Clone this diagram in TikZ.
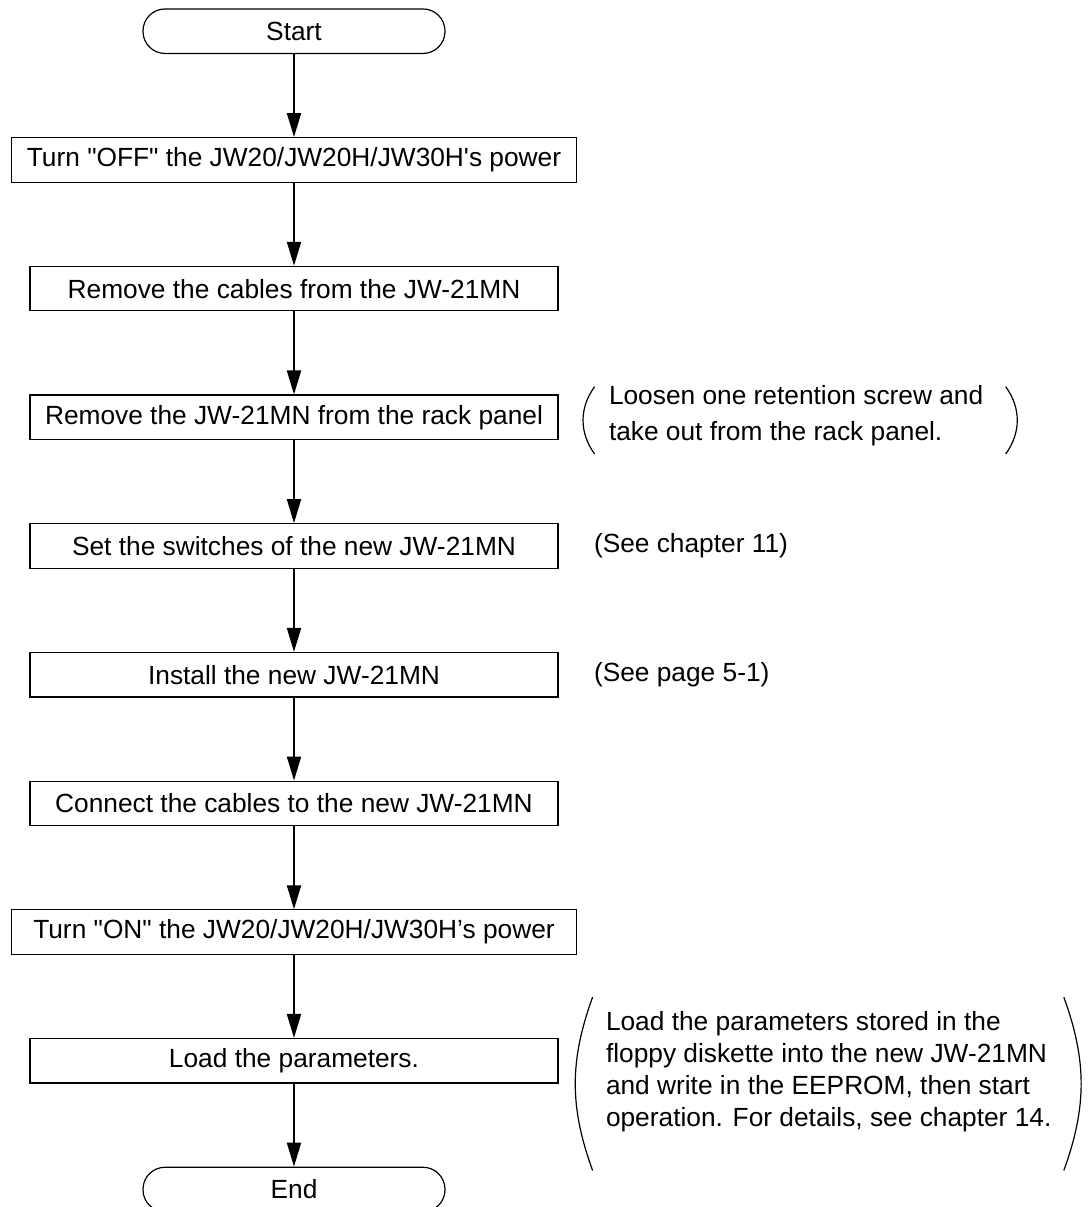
\documentclass[tikz,border=0pt]{standalone}
\usepackage{fontspec}
\setmainfont{Liberation Sans}
\usetikzlibrary{positioning,arrows.meta}

\begin{document}
\begin{tikzpicture}[
  node distance=41.5pt,
  >={Triangle[length=12pt,width=7pt]},
  font=\fontsize{13.15}{16}\selectfont,
  terminal/.style={draw,line width=0.6pt,rounded corners=11pt,minimum width=151pt,minimum height=22.25pt,inner sep=0pt},
  process/.style={draw,line width=0.6pt,minimum width=264pt,minimum height=22.25pt,inner sep=0pt},
  wideprocess/.style={process,minimum width=282.5pt},
  remark/.style={align=left,inner sep=0pt},
  paren/.style={line width=0.6pt}
]
  \useasboundingbox (0,0) rectangle (544pt,-603.5pt);

  % main flow
  \node[terminal] (start) at (147pt,-15.6pt) {Start};
  \node[wideprocess,below=of start] (poweroff) {Turn \textquotedbl OFF\textquotedbl{} the JW20/JW20H/JW30H\textquotesingle s power};
  \node[process,below=of poweroff] (cables) {Remove the cables from the JW-21MN};
  \node[process,below=of cables] (rack) {Remove the JW-21MN from the rack panel};
  \node[process,below=of rack] (switches) {Set the switches of the new JW-21MN};
  \node[process,below=of switches] (install) {Install the new JW-21MN};
  \node[process,below=of install] (connect) {Connect the cables to the new JW-21MN};
  \node[wideprocess,below=of connect] (poweron) {Turn \textquotedbl ON\textquotedbl{} the JW20/JW20H/JW30H's power};
  \node[process,below=of poweron] (load) {Load the parameters.};
  \node[terminal,below=of load] (end) {End};

  \draw[->,line width=1pt] (start) -- (poweroff);
  \draw[->,line width=1pt] (poweroff) -- (cables);
  \draw[->,line width=1pt] (cables) -- (rack);
  \draw[->,line width=1pt] (rack) -- (switches);
  \draw[->,line width=1pt] (switches) -- (install);
  \draw[->,line width=1pt] (install) -- (connect);
  \draw[->,line width=1pt] (connect) -- (poweron);
  \draw[->,line width=1pt] (poweron) -- (load);
  \draw[->,line width=1pt] (load) -- (end);

  % side remarks
  \node[remark,right=17.5pt of switches] (seechap) {(See chapter 11)};
  \node[remark,right=17.5pt of install] (seepage) {(See page 5-1)};

  \node[remark,right=25pt of rack,yshift=1pt] (screwnote)
    {Loosen one retention screw and\\[2pt]take out from the rack panel.};
  \draw[paren] ([xshift=-7pt,yshift=-1pt]screwnote.north west) to[bend right=36] ([xshift=-7pt,yshift=-4pt]screwnote.south west);
  \draw[paren] ([xshift=11pt,yshift=-1pt]screwnote.north east) to[bend left=36] ([xshift=11pt,yshift=-4pt]screwnote.south east);

  \node[remark,right=23.5pt of load,yshift=-5.5pt] (loadnote)
    {Load the parameters stored in the\\floppy diskette into the new JW-21MN\\and write in the EEPROM, then start\\operation. For details, see chapter 14.};
  \draw[paren] ([xshift=-6.5pt,yshift=7pt]loadnote.north west) to[bend right=20] ([xshift=-6.5pt,yshift=-19pt]loadnote.south west);
  \draw[paren] ([xshift=6pt,yshift=7pt]loadnote.north east) to[bend left=20] ([xshift=6pt,yshift=-19pt]loadnote.south east);
\end{tikzpicture}
\end{document}
